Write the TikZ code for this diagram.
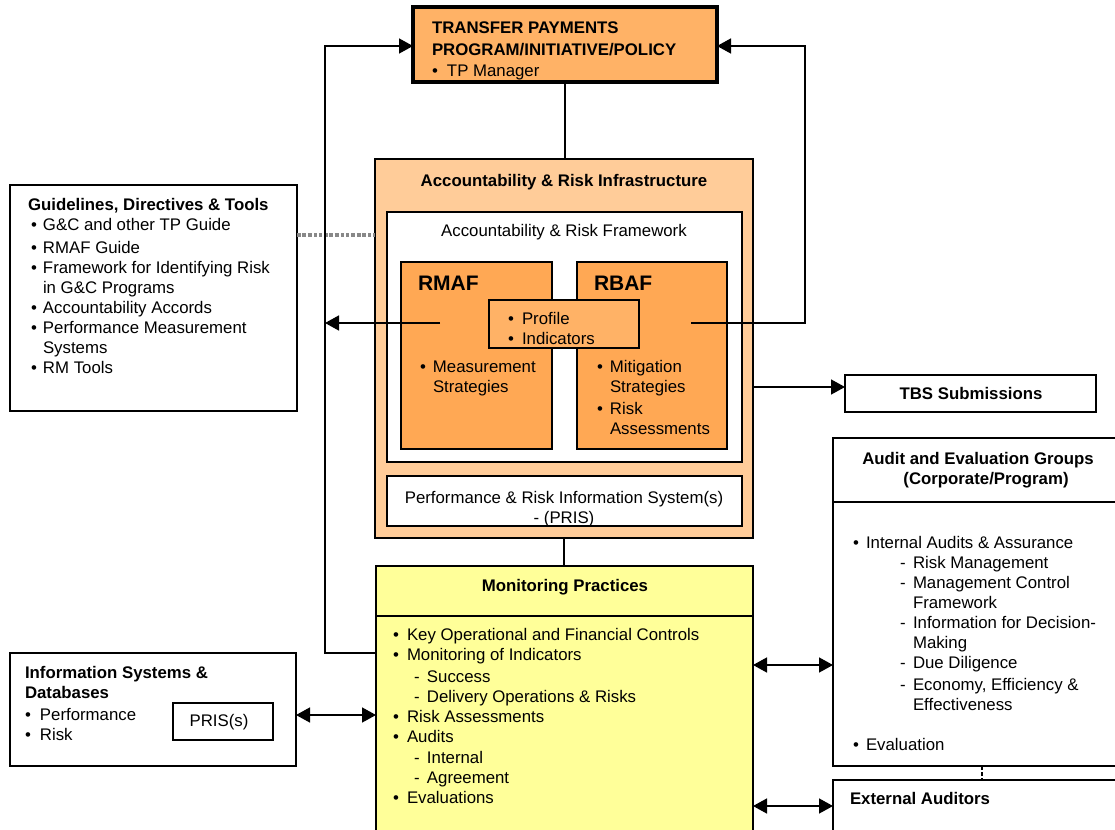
\documentclass[tikz,border=0pt]{standalone}
\usepackage{fontspec}
\setmainfont{Liberation Sans}
\usetikzlibrary{arrows.meta}
\definecolor{tpfill}{HTML}{FFB266}
\definecolor{infrafill}{HTML}{FFCC99}
\definecolor{frfill}{HTML}{FFA854}
\definecolor{monfill}{HTML}{FFFF99}
\definecolor{dotgray}{HTML}{888888}
\newcommand\st{\rule{0pt}{14pt}}
\newcommand\bl[1][13pt]{\makebox[#1][l]{\textbullet}}
\newcommand\dl[1][13pt]{\makebox[#1][l]{-}}
\newcommand\boxat[6][]{\node[boxst,#1,minimum width={(#5)-(#3)},minimum height={(#6)-(#4)}] (#2) at (#3,#4) {};}
\begin{document}
\begin{tikzpicture}[x=1pt,y=-1pt,
  boxst/.style={draw, line width=1.6pt, anchor=north west, inner sep=0pt, outer sep=0pt},
  txt/.style={inner sep=0pt, outer sep=0pt, anchor=north west, align=left, font=\fontsize{16.8}{20}\selectfont},
  ttl/.style={inner sep=0pt, outer sep=0pt, anchor=base, font=\fontsize{16.8}{20}\selectfont\bfseries},
  conn/.style={line width=1.5pt},
  arr/.style={conn, -{Triangle[length=14pt,width=15pt]}},
  darr/.style={conn, {Triangle[length=14pt,width=15pt]}-{Triangle[length=14pt,width=15pt]}},
]
\clip (0,0) rectangle (1115,829);

% top box
\boxat[fill=tpfill, line width=3.5pt]{tp}{413}{7}{717}{82}
\node[txt, font=\fontsize{16.8}{21.5}\selectfont] (tptext) at (432,20) {\st\textbf{TRANSFER PAYMENTS}\\\textbf{PROGRAM/INITIATIVE/POLICY}\\\bl[15pt]TP Manager};

% guidelines
\boxat{guide}{10}{185}{297}{411}
\node[txt] (guidetext) at (28,196) {\st\textbf{Guidelines, Directives \& Tools}\\
\hspace*{3pt}\bl[12pt]G\&C and other TP Guide\\[3pt]
\hspace*{3pt}\bl[12pt]RMAF Guide\\
\hspace*{3pt}\bl[12pt]Framework for Identifying Risk\\
\hspace*{15pt}in G\&C Programs\\
\hspace*{3pt}\bl[12pt]Accountability Accords\\
\hspace*{3pt}\bl[12pt]Performance Measurement\\
\hspace*{15pt}Systems\\
\hspace*{3pt}\bl[12pt]RM Tools};

% infrastructure
\boxat[fill=infrafill]{infra}{375}{159}{753}{538}
\node[ttl] (infratitle) at (564,186) {Accountability \& Risk Infrastructure};
\boxat[fill=white]{frame}{387}{212}{742}{462}
\node[ttl, font=\fontsize{16.8}{20}\selectfont] (frametitle) at (564,236) {Accountability \& Risk Framework};
\boxat[fill=frfill]{rmaf}{401}{262}{552}{449}
\boxat[fill=frfill]{rbaf}{577}{262}{727}{449}
\node[ttl, anchor=base west, font=\fontsize{21}{24}\selectfont\bfseries] (rmaft) at (418,290) {RMAF};
\node[ttl, anchor=base west, font=\fontsize{21}{24}\selectfont\bfseries] (rbaft) at (594,290) {RBAF};
\node[txt] (rmafitems) at (420,358) {\st\bl Measurement\\\hspace*{13pt}Strategies};
\node[txt] (rbafitems) at (597,358) {\st\bl Mitigation\\\hspace*{13pt}Strategies\\[2pt]\bl Risk\\\hspace*{13pt}Assessments};
\boxat[fill=tpfill]{prof}{489}{300}{639}{348}
\node[txt] (proftext) at (508,310) {\st\bl[14pt]Profile\\\bl[14pt]Indicators};
\boxat[fill=white]{pris}{387}{476}{742}{526}
\node[txt, anchor=north, align=center] (pristext) at (564,489) {\st Performance \& Risk Information System(s)\\- (PRIS)};

% TBS
\boxat{tbs}{845}{375}{1096}{412}
\node[ttl] (tbstext) at (971,399) {TBS Submissions};

% audit
\boxat{audit}{833}{438}{1117}{766}
\coordinate (auddiv) at (833,502);
\draw[line width=1.6pt] (auddiv) -- (auddiv -| audit.east);
\node[txt, anchor=north, align=center, font=\fontsize{16.8}{20}\selectfont\bfseries] (audtitle) at (978,450) {\st Audit and Evaluation Groups\\\hspace*{16pt}(Corporate/Program)};
\node[txt] (auditems) at (853,534) {\st\bl Internal Audits \& Assurance\\
\hspace*{47pt}\dl Risk Management\\
\hspace*{47pt}\dl Management Control\\
\hspace*{60pt}Framework\\
\hspace*{47pt}\dl Information for Decision-\\
\hspace*{60pt}Making\\
\hspace*{47pt}\dl Due Diligence\\[2pt]
\hspace*{47pt}\dl Economy, Efficiency \&\\
\hspace*{60pt}Effectiveness\\[20pt]
\bl Evaluation};

% external
\boxat{ext}{833}{780}{1117}{840}
\node[ttl, anchor=base west] (exttext) at (850,804) {External Auditors};

% monitoring
\boxat[fill=monfill]{mon}{376}{566}{753}{840}
\coordinate (mondiv) at (376,616);
\draw[line width=1.6pt] (mondiv) -- (mondiv -| mon.east);
\node[ttl] (montitle) at (565,591) {Monitoring Practices};
\node[txt] (monitems) at (393,626) {\st\bl[14pt]Key Operational and Financial Controls\\
\bl[14pt]Monitoring of Indicators\\[2pt]
\hspace*{21pt}\dl Success\\
\hspace*{21pt}\dl Delivery Operations \& Risks\\
\bl[14pt]Risk Assessments\\
\bl[14pt]Audits\\[1pt]
\hspace*{21pt}\dl Internal\\
\hspace*{21pt}\dl Agreement\\
\bl[14pt]Evaluations};

% info systems
\boxat{info}{10}{653}{296}{766}
\node[txt] (infotext) at (25,664) {\st\textbf{Information Systems \&}\\\textbf{Databases}\\[2pt]\bl[15pt]Performance\\\bl[15pt]Risk};
\boxat{priss}{173}{703}{273}{740}
\node[txt, anchor=center] (prisstext) at (219,722) {PRIS(s)};

% connectors
\coordinate (vtop) at (325,46);
\coordinate (vbot) at (325,653);
\coordinate (vmid) at (325,323);
\coordinate (rtop) at (805,46);
\coordinate (rmid) at (805,323);
\coordinate (rmafL) at (440,323);
\coordinate (rbafR) at (691,323);
\coordinate (gy) at (0,235);
\draw[dotgray, line width=4pt, dash pattern=on 4pt off 1.3pt on 4pt off 1.3pt on 4pt off 2.5pt on 2.5pt off 2.5pt on 2.5pt off 2.5pt] (guide.east |- gy) -- (infra.west |- gy);
\draw[arr] (mon.west |- vbot) -- (vbot) -- (vtop) -- (tp.west |- vtop);
\draw[arr] (rmafL) -- (vmid);
\draw[arr] (rbafR) -- (rmid) -- (rtop) -- (tp.east |- rtop);
\draw[conn] (tp.south) -- (tp.south |- infra.north);
\draw[conn] (infra.south) -- (infra.south |- mon.north);
\coordinate (tbsy) at (0,387);
\draw[arr] (infra.east |- tbsy) -- (tbs.west |- tbsy);
\coordinate (auy) at (0,665);
\draw[darr] (mon.east |- auy) -- (audit.west |- auy);
\coordinate (exy) at (0,806);
\draw[darr] (mon.east |- exy) -- (ext.west |- exy);
\coordinate (iny) at (0,715);
\draw[darr] (info.east |- iny) -- (mon.west |- iny);
\coordinate (dx) at (982,0);
\draw[line width=1.8pt, dash pattern=on 4pt off 2pt] (audit.south -| dx) -- (ext.north -| dx);
\end{tikzpicture}
\end{document}
